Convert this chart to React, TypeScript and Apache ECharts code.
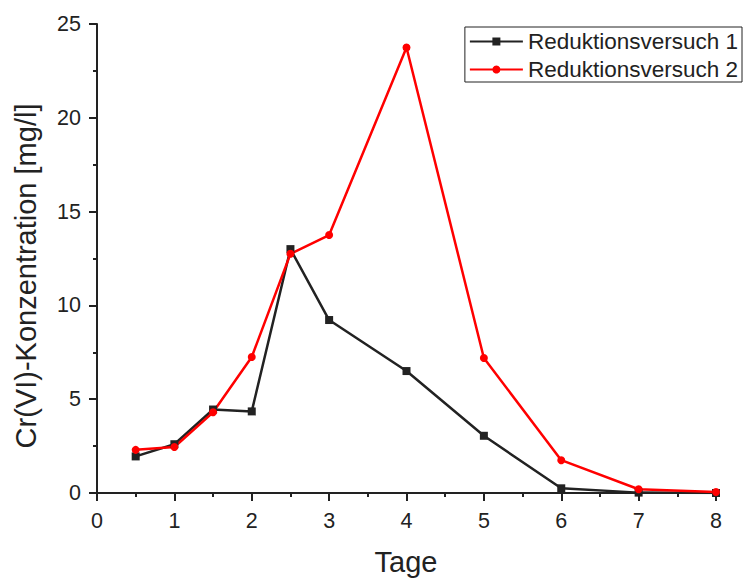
import React, { useEffect, useRef } from "react";
import * as echarts from "echarts";

const days = [0.5, 1, 1.5, 2, 2.5, 3, 4, 5, 6, 7, 8];
const versuch1 = [1.95, 2.6, 4.45, 4.35, 13.0, 9.22, 6.5, 3.05, 0.25, 0.02, 0.0];
const versuch2 = [2.3, 2.45, 4.3, 7.25, 12.75, 13.75, 23.75, 7.2, 1.75, 0.2, 0.05];
const seriesNames = ["Reduktionsversuch 1", "Reduktionsversuch 2"];
const xName = "Tage";
const yName = "Cr(VI)-Konzentration [mg/l]";

export default function App() {
  const ref = useRef<HTMLDivElement>(null);
  useEffect(() => {
    const chart = echarts.init(ref.current!, null, { renderer: "svg" });
    const font = "'Liberation Sans', Arial, sans-serif";
    const axisCommon = {
      axisLine: { show: true, onZero: false, lineStyle: { color: "#222", width: 2 } },
      axisTick: { show: true, inside: false, length: 8, lineStyle: { color: "#222", width: 2 } },
      minorTick: { show: true, splitNumber: 2, length: 4, lineStyle: { color: "#222", width: 2 } },
      splitLine: { show: false },
      axisLabel: { color: "#222", fontSize: 21.5, fontFamily: font },
    };
    chart.setOption({
      animation: false,
      backgroundColor: "#fff",
      grid: { left: 97, top: 24, right: 30, bottom: 91 },
      legend: {
        orient: "vertical",
        right: 4,
        top: 27,
        borderColor: "#222",
        borderWidth: 1,
        borderRadius: 0,
        padding: [3, 4, 1, 4],
        itemGap: 5,
        itemWidth: 53,
        itemHeight: 10,
        textStyle: { color: "#222", fontSize: 22.5, fontFamily: font },
        data: seriesNames,
      },
      graphic: [
        {
          type: "text",
          x: 406,
          y: 562,
          style: {
            text: xName,
            fontSize: 29,
            fontFamily: font,
            fill: "#222",
            align: "center",
            verticalAlign: "middle",
          },
        },
        {
          type: "text",
          x: 26,
          y: 276,
          rotation: Math.PI / 2,
          style: {
            text: yName,
            fontSize: 29,
            fontFamily: font,
            fill: "#222",
            align: "center",
            verticalAlign: "middle",
          },
        },
      ],
      xAxis: {
        type: "value",
        min: 0,
        max: 8,
        interval: 1,
        ...axisCommon,
        axisLabel: { ...axisCommon.axisLabel, margin: 17 },
      },
      yAxis: {
        type: "value",
        min: 0,
        max: 25,
        interval: 5,
        ...axisCommon,
        axisLabel: { ...axisCommon.axisLabel, margin: 16 },
      },
      series: [
        {
          name: seriesNames[0],
          type: "line",
          data: days.map((d, i) => [d, versuch1[i]]),
          symbol: "rect",
          symbolSize: 8,
          lineStyle: { color: "#222", width: 2.5 },
          itemStyle: { color: "#222" },
        },
        {
          name: seriesNames[1],
          type: "line",
          data: days.map((d, i) => [d, versuch2[i]]),
          symbol: "circle",
          symbolSize: 8,
          lineStyle: { color: "#ff0000", width: 2.5 },
          itemStyle: { color: "#ff0000" },
        },
      ],
    });
    return () => chart.dispose();
  }, []);
  return <div ref={ref} style={{ width: 746, height: 584, position: "absolute", left: 0, top: 0 }} />;
}
